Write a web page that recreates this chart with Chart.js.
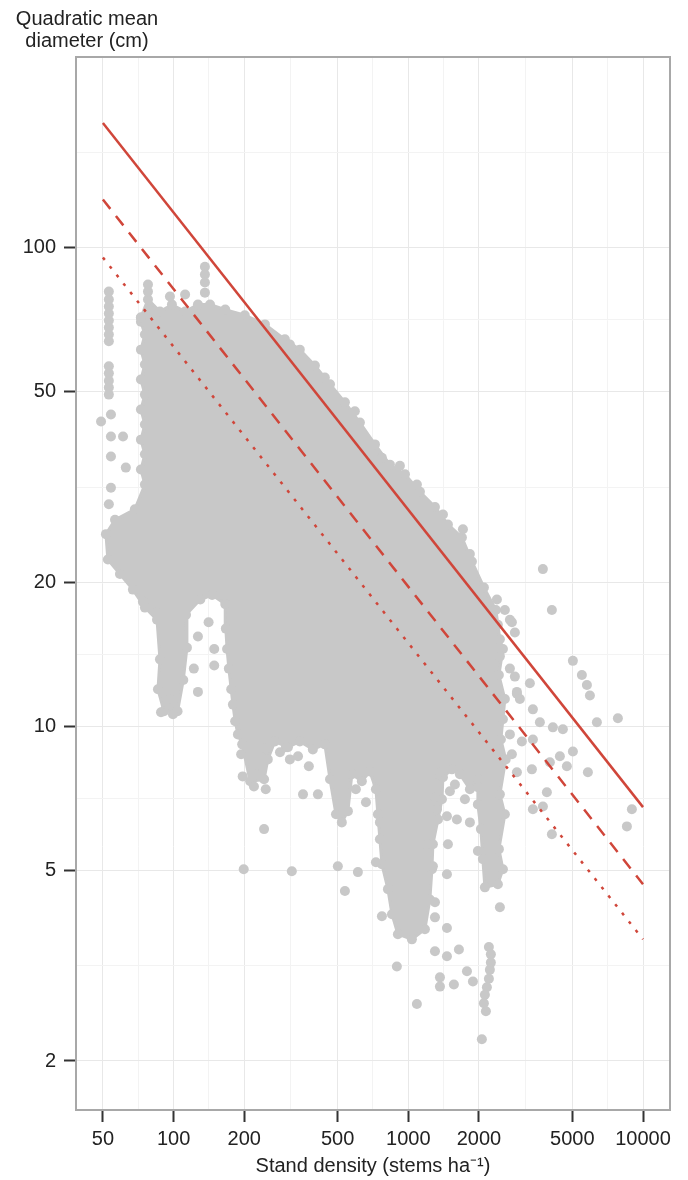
<!DOCTYPE html>
<html>
<head>
<meta charset="utf-8">
<script src="https://cdn.jsdelivr.net/npm/chart.js@4.4.0/dist/chart.umd.min.js"></script>
<style>
  body { margin: 0; background: #fff; }
  canvas { display: block; }
</style>
</head>
<body>
<canvas id="chart" width="688" height="1180"></canvas>
<script>
// axis breaks
const xTicks = [50, 100, 200, 500, 1000, 2000, 5000, 10000];
const xMinor = [70.7, 141, 316, 707, 1414, 3162, 7071];
const yTicks = [2, 5, 10, 20, 50, 100];
const yMinor = [3.16, 7.07, 14.1, 31.6, 70.7, 158];

// size-density limit lines (ends at 50 and 10000 stems/ha)
const lineDensity = [50, 10000];
const upperLimit = [182, 6.78];
const midLimit = [126, 4.68];
const lowerLimit = [95.3, 3.59];

// outline of the dense part of the plot cloud [density, diameter]
const denseCore = [
  [72.6,71.4],[77.8,77.9],[87.5,73.5],[98.4,76.0],[112,73.5],[127,76.0],[143,76.0],[166,74.2],
  [201,72.2],[245,69.1],[298,64.3],[345,61.2],[400,56.7],[464,51.8],[537,47.5],[622,43.1],
  [721,38.8],[835,35.2],[968,33.6],[1121,30.9],[1299,28.7],[1475,26.4],[1692,24.8],[1866,22.1],
  [2100,19.5],[2361,17.5],[2408,16.3],[2456,15.2],[2530,14.5],[2432,12.8],[2579,11.4],[2530,10.35],
  [2480,9.39],[2600,8.53],[2456,7.21],[2579,6.55],[2432,5.54],[2530,5.03],[2408,4.68],
  [2120,4.61],[2078,5.28],[2038,6.10],[1979,6.87],[1979,7.75],[1830,7.39],[1659,7.94],[1534,8.13],
  [1405,7.83],[1391,7.04],[1338,6.39],[1273,5.67],[1261,5.03],[1236,4.35],[1177,3.77],[1036,3.59],
  [903,3.68],[852,4.05],[819,4.57],[772,5.15],[757,5.81],[742,6.55],[728,7.39],[686,8.05],
  [634,7.68],[575,7.94],[553,6.65],[521,6.30],[492,6.55],[464,7.75],[441,9.17],[392,8.95],
  [345,9.30],[307,9.04],[270,9.30],[252,8.53],[243,7.75],[212,7.68],[196,9.17],[188,9.62],
  [183,10.25],[179,11.1],[176,11.95],[172,13.2],[169,14.5],[167,16.0],[166,18.0],[146,18.8],
  [130,18.4],[113,17.1],[114,14.6],[110,12.5],[104,10.75],[91.0,10.75],[85.8,11.95],[87.5,13.8],
  [85.0,16.7],[75.5,17.7],[67.1,19.3],[59.1,20.8],[52.5,22.3],[51.5,25.2],[56.3,27.0],[68.4,28.4],
  [75.5,32.0],[72.6,34.4],[75.5,37.0],[72.6,39.7],[75.5,42.7],[72.6,45.9],[75.5,49.3],[72.6,53.0],
  [75.5,57.0],[72.6,61.2],[75.5,65.8],[72.6,70.0],[72.6,71.4]
];

// single stands outside the dense part [density, diameter]
const stands = [
  [53,80.9],[53,77.9],[53,75.3],[53,72.8],[53,70.4],[53,68.1],[53,65.8],[53,63.7],
  [53,56.5],[53,54.6],[53,52.7],[53,51.0],[53,49.3],
  [49.1,43.3],[54.1,44.8],[54.1,40.3],[60.9,40.3],[54.1,36.6],[62.6,34.7],[54.1,31.5],[53.0,29.1],
  [77.8,83.7],[77.8,80.9],[96.5,79.0],[136,91.2],[136,87.8],[136,84.5],[136,80.5],[112,79.8],
  [921,35.0],[313,62.7],[441,53.5],[592,45.5],[772,36.4],[1088,32.0],[1405,27.7],[1709,25.8],
  [1830,22.9],[2385,18.4],[2709,16.7],
  [2579,17.5],[2763,16.5],[2845,15.7],[2456,14.0],[2709,13.2],[2845,12.7],[3296,12.3],[2902,11.7],
  [3745,21.3],[4090,17.5],[5026,13.7],[5490,12.8],[5767,12.2],[5938,11.6],[6360,10.2],[7815,10.4],
  [5823,8.02],[8965,6.71],[8537,6.18],
  [2902,11.8],[2988,11.4],[3395,10.85],[3636,10.2],[4130,9.95],[4556,9.86],[5026,8.86],[4424,8.66],
  [4738,8.25],[4010,8.41],[3894,7.28],[3745,6.80],[3395,6.71],[4090,5.95],[2902,8.02],[3362,8.13],
  [3047,9.30],[3395,9.39],[2709,9.62],[2763,8.74],
  [74.0,18.2],[84.1,17.3],[127,15.4],[122,13.2],[127,11.8],[149,14.5],[149,13.4],[141,16.5],
  [88.4,10.7],[99.4,10.6],[96.5,11.4],
  [194,8.74],[197,7.86],[224,7.94],[220,7.49],[247,7.39],[247,8.99],[243,6.10],[199,5.03],
  [319,4.98],[301,9.04],[339,8.66],[377,8.25],[356,7.21],[412,7.21],[598,7.39],[660,6.94],
  [757,6.30],[501,5.10],[610,4.96],[728,5.20],[537,4.53],[772,4.01],[313,8.53],[284,8.83],
  [1299,4.29],[1299,3.99],[1461,3.79],[1299,3.39],[1461,3.31],[1643,3.42],[894,3.15],[1364,2.99],
  [1364,2.86],[1564,2.89],[1778,3.08],[1885,2.93],[1088,2.63],
  [2205,3.46],[2248,3.34],[2248,3.21],[2226,3.10],[2205,2.97],[2162,2.85],[2120,2.75],[2099,2.64],
  [2141,2.54],[2058,2.22],
  [1364,8.02],[1273,7.63],[1504,7.32],[1299,7.11],[1325,6.71],[1461,6.49],[1611,6.39],[1830,6.30],
  [1200,5.67],[1475,5.67],[1273,5.10],[1461,4.91],[1979,5.49],[1979,7.46],[2456,4.19],[1743,7.04],
  [1580,7.56]
];

const grey = "#c8c8c8";
const red = "#d0463a";
const textColor = "#222";

Chart.defaults.font.family = "'Liberation Sans', Arial, sans-serif";

const toPoints = (arr) => arr.map(p => ({ x: p[0], y: p[1] }));
const linePoints = (ys) => lineDensity.map((x, i) => ({ x: x, y: ys[i] }));
const isMajor = (list, v) => list.some(t => Math.abs(t - v) / t < 1e-6);
const allTicks = (major, minor) => major.concat(minor).sort((a, b) => a - b).map(v => ({ value: v }));

// grey box round the panel
const panelBorder = {
  id: "panelBorder",
  afterDraw(chart) {
    const { ctx, chartArea } = chart;
    ctx.save();
    ctx.strokeStyle = "#a8a8a8";
    ctx.lineWidth = 2;
    ctx.strokeRect(chartArea.left, chartArea.top, chartArea.right - chartArea.left, chartArea.bottom - chartArea.top);
    ctx.restore();
  }
};

// horizontal y title above the axis
const yTitle = {
  id: "yTitle",
  afterDraw(chart) {
    const ctx = chart.ctx;
    ctx.save();
    ctx.font = "20px 'Liberation Sans', Arial, sans-serif";
    ctx.fillStyle = textColor;
    ctx.textAlign = "center";
    ctx.fillText("Quadratic mean", 87, 25);
    ctx.fillText("diameter (cm)", 87, 47);
    ctx.restore();
  }
};

new Chart(document.getElementById("chart"), {
  type: "scatter",
  data: {
    datasets: [
      {
        label: "upper", type: "line", data: linePoints(upperLimit),
        borderColor: red, borderWidth: 2.5, pointRadius: 0, fill: false, order: 0
      },
      {
        label: "mid", type: "line", data: linePoints(midLimit),
        borderColor: red, borderWidth: 2.5, borderDash: [12, 9], pointRadius: 0, fill: false, order: 0
      },
      {
        label: "lower", type: "line", data: linePoints(lowerLimit),
        borderColor: red, borderWidth: 2.5, borderDash: [3, 8], pointRadius: 0, fill: false, order: 0
      },
      {
        label: "stands", data: toPoints(stands),
        backgroundColor: grey, pointRadius: 5, borderWidth: 0, order: 2
      },
      {
        label: "dense", type: "line", data: toPoints(denseCore), fill: "shape", tension: 0,
        backgroundColor: grey, borderColor: grey, borderWidth: 3,
        pointRadius: 5, pointBackgroundColor: grey, pointBorderWidth: 0, order: 3
      }
    ]
  },
  options: {
    responsive: false,
    animation: false,
    events: [],
    layout: { padding: { top: 57, right: 18, left: 0, bottom: 0 } },
    plugins: { legend: { display: false }, tooltip: { enabled: false } },
    scales: {
      x: {
        type: "logarithmic",
        min: 38.4,
        max: 13030,
        afterBuildTicks: (axis) => { axis.ticks = allTicks(xTicks, xMinor); },
        afterFit: (axis) => { axis.height = 70; },
        border: { display: false },
        grid: {
          color: (c) => isMajor(xTicks, c.tick.value) ? "#e8e8e8" : "#f3f3f3",
          lineWidth: 1,
          tickLength: 12,
          tickWidth: 2,
          tickColor: (c) => isMajor(xTicks, c.tick.value) ? "#333" : "rgba(0,0,0,0)"
        },
        ticks: {
          autoSkip: false, maxRotation: 0, padding: 5, color: textColor, font: { size: 20 },
          callback: (v) => isMajor(xTicks, v) ? String(v) : ""
        },
        title: {
          display: true, text: "Stand density (stems ha\u207B\u00B9)", color: textColor,
          font: { size: 20 }, padding: { top: 0, bottom: 2 }
        }
      },
      y: {
        type: "logarithmic",
        min: 1.58,
        max: 250,
        afterBuildTicks: (axis) => { axis.ticks = allTicks(yTicks, yMinor); },
        afterFit: (axis) => { axis.width = 76; },
        border: { display: false },
        grid: {
          color: (c) => isMajor(yTicks, c.tick.value) ? "#e8e8e8" : "#f3f3f3",
          lineWidth: 1,
          tickLength: 12,
          tickWidth: 2,
          tickColor: (c) => isMajor(yTicks, c.tick.value) ? "#333" : "rgba(0,0,0,0)"
        },
        ticks: {
          autoSkip: false, padding: 8, color: textColor, font: { size: 20 },
          callback: (v) => isMajor(yTicks, v) ? String(v) : ""
        }
      }
    }
  },
  plugins: [panelBorder, yTitle]
});
</script>
</body>
</html>
